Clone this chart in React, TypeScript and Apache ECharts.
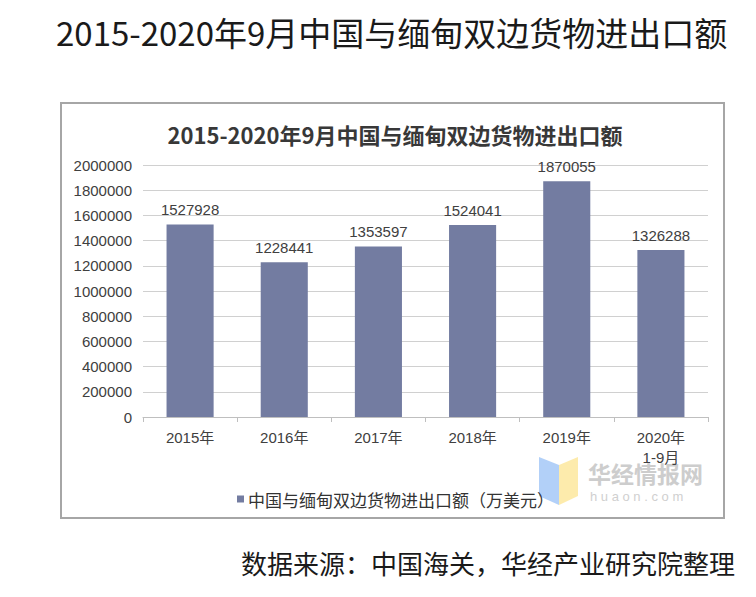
import React, { useEffect, useRef } from "react";
import * as echarts from "echarts";

const categories = ["2015年", "2016年", "2017年", "2018年", "2019年", "2020年\n1-9月"];
const values = [1527928, 1228441, 1353597, 1524041, 1870055, 1326288];
const seriesName = "中国与缅甸双边货物进出口额（万美元）";
const pageTitle = "2015-2020年9月中国与缅甸双边货物进出口额";
const chartTitle = "2015-2020年9月中国与缅甸双边货物进出口额";
const sourceText = "数据来源：中国海关，华经产业研究院整理";
const yMin = 0;
const yMax = 2000000;
const yInterval = 200000;

const CJK = '"Noto Sans CJK SC", "Noto Sans", sans-serif';
const LATIN = '"Liberation Sans", Arial, "Noto Sans CJK SC", sans-serif';
const BAR = "#737CA1";

export default function App() {
  const ref = useRef<HTMLDivElement>(null);
  useEffect(() => {
    if (!ref.current) return;
    const chart = echarts.init(ref.current, null, { renderer: "svg" });
    chart.setOption({
      animation: false,
      backgroundColor: "#ffffff",
      title: [
        {
          text: chartTitle,
          left: 390,
          top: 118,
          textAlign: "center",
          textStyle: {
            fontFamily: CJK,
            fontSize: 22,
            fontWeight: "bold",
            color: "#383838",
          },
        },
      ],
      grid: { left: 143, right: 48, top: 165, bottom: 180, containLabel: false },
      legend: {
        left: 232,
        top: 484,
        icon: "rect",
        itemWidth: 7,
        itemHeight: 7,
        itemGap: 5,
        textStyle: { fontFamily: CJK, fontSize: 17, color: "#333", lineHeight: 20, padding: [0, 0, 0, -1] },
        data: [seriesName],
      },
      xAxis: {
        type: "category",
        data: categories,
        axisLine: { lineStyle: { color: "#bfbfbf", width: 1 } },
        axisTick: { show: true, length: 5, lineStyle: { color: "#bfbfbf" }, alignWithLabel: false },
        axisLabel: {
          margin: 10,
          fontFamily: LATIN,
          fontSize: 15,
          lineHeight: 20,
          color: "#404040",
          interval: 0,
        },
      },
      yAxis: {
        type: "value",
        min: yMin,
        max: yMax,
        interval: yInterval,
        axisLine: { show: false },
        axisTick: { show: false },
        splitLine: { lineStyle: { color: "#d0d0d0", width: 1 } },
        axisLabel: {
          margin: 11,
          fontFamily: LATIN,
          fontSize: 15,
          color: "#404040",
          formatter: (v: number) => String(v),
        },
      },
      series: [
        {
          name: seriesName,
          type: "bar",
          data: values,
          barWidth: "50%",
          itemStyle: { color: BAR },
          label: {
            show: true,
            position: "top",
            distance: 7,
            fontFamily: LATIN,
            fontSize: 15,
            color: "#404040",
          },
        },
      ],
      graphic: [
        {
          type: "rect",
          shape: { x: 61, y: 103, width: 663, height: 415 },
          style: { fill: "none", stroke: "#a6a6a6", lineWidth: 2 },
          silent: true,
        },
        {
          type: "text",
          left: 56,
          top: 15,
          style: {
            text: pageTitle,
            fontFamily: CJK,
            fontSize: 33,
            fill: "#1a1a1a",
          },
        },
        {
          type: "text",
          right: 21,
          top: 549,
          style: {
            text: sourceText,
            fontFamily: CJK,
            fontSize: 26,
            fill: "#1a1a1a",
          },
        },
        {
          type: "group",
          z: -1,
          silent: true,
          children: [
            {
              type: "polygon",
              shape: { points: [[539, 457], [559, 465], [559, 505], [539, 496]] },
              style: { fill: "#aacbf7", opacity: 0.9 },
            },
            {
              type: "polygon",
              shape: { points: [[559, 465], [578, 457], [578, 496], [559, 505]] },
              style: { fill: "#fde9a3", opacity: 0.9 },
            },
            {
              type: "text",
              x: 588,
              y: 461,
              style: {
                text: "华经情报网",
                fontFamily: CJK,
                fontSize: 23,
                fontWeight: "bold",
                fill: "#cdcdcd",
              },
            },
            {
              type: "text",
              x: 590,
              y: 490,
              style: {
                text: "h u a o n . c o m",
                fontFamily: LATIN,
                fontSize: 13,
                fill: "#d0d0d0",
              },
            },
          ],
        },
      ],
    });
    return () => chart.dispose();
  }, []);
  return (
    <div
      ref={ref}
      style={{ position: "absolute", left: 0, top: 0, width: 756, height: 597 }}
    />
  );
}
